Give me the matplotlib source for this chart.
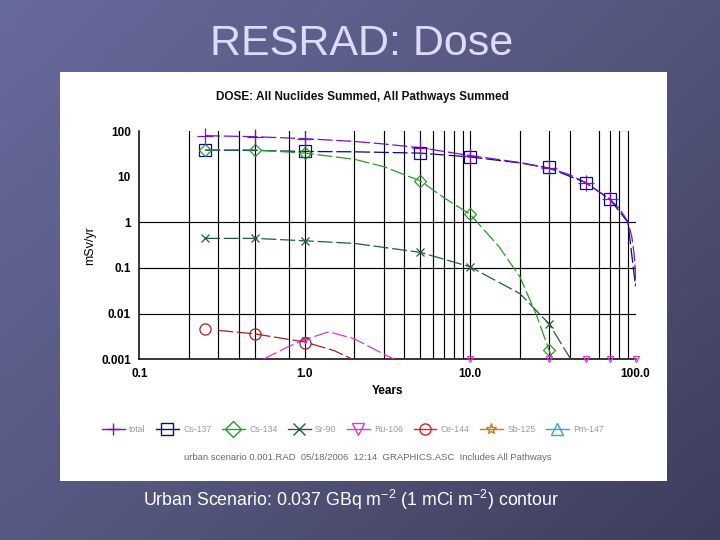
import numpy as np
import matplotlib
matplotlib.use("Agg")
import matplotlib.pyplot as plt
from matplotlib.colors import LinearSegmentedColormap
from matplotlib.patches import Rectangle
from matplotlib.lines import Line2D

plt.rcParams['font.family'] = ['Liberation Sans', 'DejaVu Sans']
plt.rcParams['mathtext.fontset'] = 'custom'
plt.rcParams['mathtext.rm'] = 'Liberation Sans'
plt.rcParams['mathtext.it'] = 'Liberation Sans:italic'
plt.rcParams['mathtext.bf'] = 'Liberation Sans:bold'

# ---------------- data (mSv/yr) ----------------
total_t = [0.25, 0.5, 1.0, 2.0, 3.0, 5.0, 10.0, 20.0, 30.0, 40.0, 50.0, 60.0, 70.0, 80.0, 90.0, 95.0, 98.0, 99.5, 100.0]
total_v = [79, 75, 68, 59, 52, 43, 29, 20.4, 15.4, 11, 7.4, 4.7, 3.2, 2.0, 1.03, 0.48, 0.21, 0.1, 0.04]
total_mt = [0.25, 0.5, 1.0, 5.0, 10.0, 30.0, 50.0, 70.0]
total_mv = [79, 75, 68, 43, 29, 15.4, 7.4, 3.2]

cs137_t = [0.25, 0.5, 1.0, 2.0, 5.0, 10.0, 20.0, 30.0, 50.0, 70.0, 90.0, 100.0]
cs137_v = [38, 37.5, 35.6, 35, 32.8, 27, 20, 15.4, 7.4, 3.2, 1.0, 0.04]
cs137_mt = [0.25, 1.0, 5.0, 10.0, 30.0, 50.0, 70.0]
cs137_mv = [38, 35.6, 32.8, 27, 16.2, 7.4, 3.2]

cs134_t = [0.25, 0.5, 1.0, 2.0, 3.0, 5.0, 7.0, 10.0, 15.0, 20.0, 25.0, 30.0, 32.0]
cs134_v = [38.6, 38.6, 32.8, 24, 16.6, 8.1, 3.4, 1.5, 0.29, 0.064, 0.01, 0.0016, 0.0008]
cs134_mt = [0.25, 0.5, 1.0, 5.0, 10.0, 30.0]
cs134_mv = [38.6, 38.6, 32.8, 8.1, 1.5, 0.0016]

sr90_t = [0.25, 0.5, 1.0, 2.0, 5.0, 10.0, 20.0, 30.0, 40.0, 45.0]
sr90_v = [0.445, 0.445, 0.394, 0.345, 0.22, 0.106, 0.0275, 0.006, 0.0011, 0.0005]
sr90_mt = [0.25, 0.5, 1.0, 5.0, 10.0, 30.0]
sr90_mv = [0.445, 0.445, 0.394, 0.22, 0.106, 0.006]

ru106_t = [0.56, 0.8, 1.0, 1.4, 2.0, 3.0, 3.5]
ru106_v = [0.001, 0.0019, 0.0027, 0.0040, 0.0028, 0.0013, 0.001]
ru106_mt = [1.0, 10.0, 30.0, 50.0, 70.0, 100.0]
ru106_mv = [0.0027, 0.001, 0.001, 0.001, 0.001, 0.001]

ce144_t = [0.3, 0.5, 1.0, 1.5, 1.95]
ce144_v = [0.0043, 0.0036, 0.0024, 0.00156, 0.001]
ce144_mt = [0.25, 0.5, 1.0]
ce144_mv = [0.0045, 0.0036, 0.00226]

legend_labels = ["total", "Cs-137", "Cs-134", "Sr-90", "Ru-106", "Ce-144", "Sb-125", "Pm-147"]
xticks = [0.1, 1.0, 10.0, 100.0]
xtick_labels = ["0.1", "1.0", "10.0", "100.0"]
yticks = [0.001, 0.01, 0.1, 1, 10, 100]
ytick_labels = ["0.001", "0.01", "0.1", "1", "10", "100"]
xgrid = [0.2, 0.3, 0.4, 0.5, 0.8, 1, 2, 3, 4, 5, 6, 7, 8, 9, 10, 20, 30, 40, 60, 70, 80, 90]
ygrid = [0.01, 0.1, 1]

# ---------------- figure ----------------
fig = plt.figure(figsize=(7.2, 5.4), dpi=100)

# slide background gradient
bg = fig.add_axes([0, 0, 1, 1])
bg.set_axis_off()
cmap = LinearSegmentedColormap.from_list("slide", ["#676a9c", "#55577f", "#3d3e5c"])
gx, gy = np.meshgrid(np.linspace(0, 1, 200), np.linspace(0, 1, 150))
bg.imshow(0.55 * gx + 0.45 * gy, cmap=cmap, aspect='auto', extent=(0, 1, 0, 1), origin='upper')
bg.set_xlim(0, 1)
bg.set_ylim(0, 1)

# white picture panel
fig.patches.append(Rectangle((60 / 720, 1 - 481 / 540), 607 / 720, 409 / 540,
                             transform=fig.transFigure, facecolor='white', edgecolor='none', zorder=1))

fig.text(0.502, 1 - 44 / 540, "RESRAD: Dose", ha='center', va='center', fontsize=31, color='#dcdcf6')
fig.text(0.487, 1 - 500 / 540, "Urban Scenario: 0.037 GBq m$^{-2}$ (1 mCi m$^{-2}$) contour",
         ha='center', va='center', fontsize=12.8, color='white')
fig.text(0.503, 1 - 97 / 540, "DOSE: All Nuclides Summed, All Pathways Summed", ha='center', va='center',
         fontsize=8.5, fontweight='bold', color='#111111', zorder=3)

ax = fig.add_axes([139.3 / 720, 1 - 359.3 / 540, (635.5 - 139.3) / 720, (359.3 - 131) / 540])
ax.set_facecolor('none')
ax.set_zorder(3)
ax.set_xscale('log')
ax.set_yscale('log')
ax.set_xlim(0.1, 100)
ax.set_ylim(0.001, 100)
for s in ['top', 'right']:
    ax.spines[s].set_visible(False)
for s in ['left', 'bottom']:
    ax.spines[s].set_color('black')
    ax.spines[s].set_linewidth(1.1)
for g in xgrid:
    ax.axvline(g, color='black', lw=0.85, zorder=1)
for g in ygrid:
    ax.axhline(g, color='black', lw=0.85, zorder=1)

ax.set_xticks(xticks)
ax.set_xticklabels(xtick_labels)
ax.set_yticks(yticks)
ax.set_yticklabels(ytick_labels)
ax.minorticks_off()
ax.tick_params(length=0, labelsize=8.5, pad=6)
for lab in ax.get_xticklabels() + ax.get_yticklabels():
    lab.set_fontweight('bold')
ax.set_xlabel("Years", fontsize=8.5, fontweight='bold', labelpad=4)
ax.set_ylabel("mSv/yr", fontsize=9, labelpad=4)

dash = (0, (12, 3))
series = [
    (cs137_t, cs137_v, cs137_mt, cs137_mv, '#0a0a8c', 's', 8),
    (cs134_t, cs134_v, cs134_mt, cs134_mv, '#2a9a2a', 'D', 6),
    (sr90_t, sr90_v, sr90_mt, sr90_mv, '#1f5f3f', 'x', 5.5),
    (ru106_t, ru106_v, ru106_mt, ru106_mv, '#d838d8', 'v', 5),
    (ce144_t, ce144_v, ce144_mt, ce144_mv, '#a82020', 'o', 8),
    (total_t, total_v, total_mt, total_mv, '#7a10c8', '+', 12),
]
for t, v, mt, mv, c, m, ms in series:
    ax.plot(t, v, color=c, lw=0.9, linestyle=dash, zorder=4)
    ax.plot(mt, mv, linestyle='none', marker=m, markersize=ms, markerfacecolor='none',
            markeredgecolor=c, markeredgewidth=0.9, zorder=5, clip_on=False)

# legend
leg_colors = ['#7a10c8', '#0a0a8c', '#2a9a2a', '#1f5f3f', '#d838d8', '#e02020', '#c08020', '#30a8c8']
leg_markers = ['+', 's', 'D', 'x', 'v', 'o', '*', '^']
handles = [Line2D([], [], color=c, lw=1.0, marker=m, markersize=8, markerfacecolor='none',
                  markeredgecolor=c) for c, m in zip(leg_colors, leg_markers)]
leg = fig.legend(handles, legend_labels, loc='center', bbox_to_anchor=(0.49, 1 - 430 / 540), ncol=8,
                 frameon=False, fontsize=6.3, handlelength=2.6, handletextpad=0.5, columnspacing=1.2)
for txt in leg.get_texts():
    txt.set_color('#9a9a9a')
leg.set_zorder(4)

fig.text(0.511, 1 - 458 / 540, "urban scenario 0.001.RAD  05/18/2006  12:14  GRAPHICS.ASC  Includes All Pathways",
         ha='center', va='center', fontsize=6.8, color='#6a6a6a', zorder=3)

fig.savefig("out.png", dpi=100)
